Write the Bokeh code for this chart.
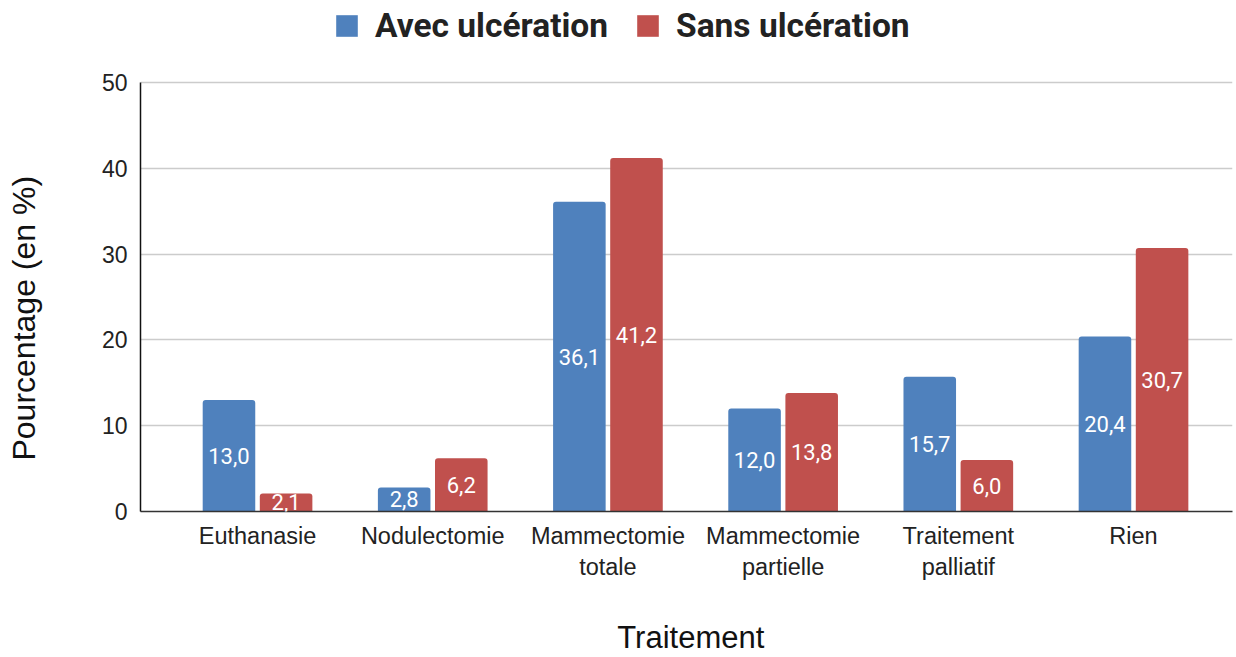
from bokeh.plotting import figure
from bokeh.models import ColumnDataSource, Range1d, FixedTicker, Legend, LegendItem, LabelSet
from bokeh.transform import dodge
from bokeh.core.properties import value
from bokeh.embed import file_html
from bokeh.resources import INLINE

categories = ["Euthanasie", "Nodulectomie", "Mammectomie\ntotale",
              "Mammectomie\npartielle", "Traitement\npalliatif", "Rien"]
avec = [13.0, 2.8, 36.1, 12.0, 15.7, 20.4]
sans = [2.1, 6.2, 41.2, 13.8, 6.0, 30.7]
series_names = ["Avec ulcération", "Sans ulcération"]
colors = ["#4f81bd", "#c0504d"]
y_ticks = [0, 10, 20, 30, 40, 50]
x_title = "Traitement"
y_title = "Pourcentage (en %)"

NBSP = "\u00a0"

idx = list(range(len(categories)))
src = ColumnDataSource(dict(
    x=idx,
    avec=avec, sans=sans,
    avec_half=[v / 2 for v in avec], sans_half=[v / 2 for v in sans],
    avec_lbl=[f"{v:.1f}".replace(".", ",") for v in avec],
    sans_lbl=[f"{v:.1f}".replace(".", ",") for v in sans],
))

# frame spans the full top so that the legend (drawn inside the frame) is visible;
# the axis line is bounded to 0..50
p = figure(width=1236, height=657, output_backend="svg", toolbar_location=None,
           x_range=Range1d(-0.668, 5.565), y_range=Range1d(0, 59.56))
p.min_border_left = 140
p.min_border_right = 4
p.min_border_top = 0
p.min_border_bottom = 146
p.outline_line_color = None
p.background_fill_color = "white"
p.border_fill_color = "white"

off = 0.163
w = 0.30
r1 = p.vbar(x=dodge("x", -off), top="avec", width=w, source=src, color=colors[0],
            line_color=None, border_radius=(3, 3, 0, 0))
r2 = p.vbar(x=dodge("x", off), top="sans", width=w, source=src, color=colors[1],
            line_color=None, border_radius=(3, 3, 0, 0))

for col, lbl, o in [("avec_half", "avec_lbl", -off), ("sans_half", "sans_lbl", off)]:
    ls = LabelSet(x=dodge("x", o), y=col, text=lbl, source=src,
                  text_color="white", text_font=value("Roboto"), text_font_size="22px",
                  text_align="center", text_baseline="middle")
    p.add_layout(ls)

# axes
p.xaxis.ticker = FixedTicker(ticks=idx)
p.xaxis.major_label_overrides = {i: c for i, c in enumerate(categories)}
p.xaxis.major_tick_line_color = None
p.xaxis.minor_tick_line_color = None
p.xaxis.axis_line_color = "#333333"
p.xaxis.axis_line_width = 1.5
p.xaxis.major_label_text_font = "Liberation Sans"
p.xaxis.major_label_text_font_size = "23.5px"
p.xaxis.major_label_text_color = "#222222"
p.xaxis.major_label_standoff = 5
p.xaxis.axis_label = NBSP + x_title
p.xaxis.axis_label_text_font = "Liberation Sans"
p.xaxis.axis_label_text_font_size = "31px"
p.xaxis.axis_label_text_font_style = "normal"
p.xaxis.axis_label_text_color = "#111111"
p.xaxis.axis_label_standoff = 37

p.yaxis.ticker = FixedTicker(ticks=y_ticks)
p.yaxis.bounds = (0, 50)
p.yaxis.major_tick_line_color = None
p.yaxis.minor_tick_line_color = None
p.yaxis.axis_line_color = "#111111"
p.yaxis.axis_line_width = 1.5
p.yaxis.major_label_text_font = "Liberation Sans"
p.yaxis.major_label_text_font_size = "23px"
p.yaxis.major_label_text_color = "#222222"
p.yaxis.major_label_standoff = 7
p.yaxis.axis_label = y_title + NBSP * 14
p.yaxis.axis_label_text_font = "Liberation Sans"
p.yaxis.axis_label_text_font_size = "32px"
p.yaxis.axis_label_text_font_style = "normal"
p.yaxis.axis_label_text_color = "#111111"
p.yaxis.axis_label_standoff = 57

p.xgrid.grid_line_color = None
p.ygrid.ticker = FixedTicker(ticks=y_ticks)
p.ygrid.grid_line_color = "#cccccc"
p.ygrid.grid_line_width = 1.5

legend = Legend(items=[LegendItem(label=series_names[0], renderers=[r1]),
                       LegendItem(label=series_names[1], renderers=[r2])],
                location=(193, 466), orientation="horizontal",
                glyph_width=27, glyph_height=27, label_height=22,
                label_standoff=15, spacing=26, padding=0, margin=0,
                border_line_color=None, background_fill_alpha=0,
                label_text_font="Roboto", label_text_font_size="33.5px",
                label_text_font_style="bold", label_text_color="#222222")
p.add_layout(legend, "center")

open("out.html", "w").write(file_html(p, INLINE))
